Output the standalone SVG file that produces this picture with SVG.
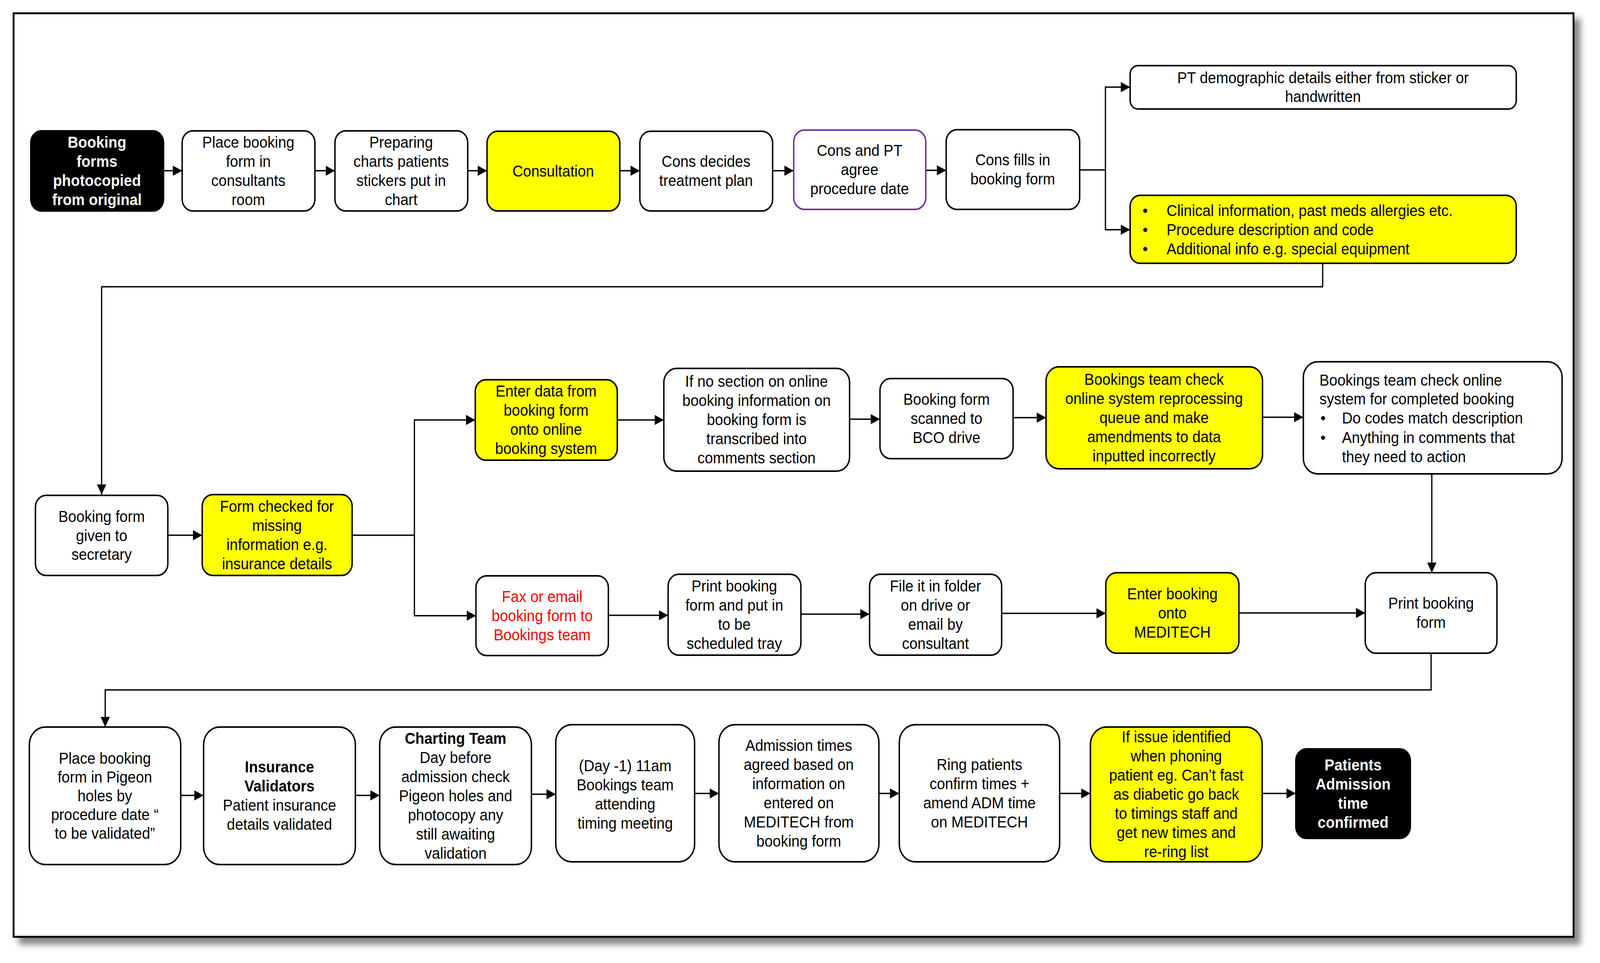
<svg xmlns="http://www.w3.org/2000/svg" width="4471" height="2465" viewBox="0 0 4471 2465" preserveAspectRatio="none">
<style>
svg:root{width:100%;height:100%}
.n{fill:#fff;stroke:#000;stroke-width:4}
.y{fill:#ff0;stroke:#000;stroke-width:4}
.k{fill:#000;stroke:#000;stroke-width:4}
.p{fill:#fff;stroke:#7030a0;stroke-width:4}
.c{fill:none;stroke:#000;stroke-width:3.5}
text{font-family:"Liberation Sans",Arial,sans-serif;font-size:41px;fill:#000}
.m{text-anchor:middle}
.b{font-weight:bold}
.w{fill:#fff;font-weight:bold}
.r{fill:#f00}
</style>
<defs>
<marker id="a" markerUnits="userSpaceOnUse" markerWidth="26" markerHeight="26" refX="26" refY="13" orient="auto"><path d="M0,0 L26,13 L0,26 z" fill="#000"/></marker>
<filter id="sh" x="-5%" y="-5%" width="110%" height="110%"><feGaussianBlur stdDeviation="8"/></filter>
</defs>
<rect width="4471" height="2465" fill="#fff"/>
<rect x="52" y="48" width="4365" height="2370" fill="#888" filter="url(#sh)"/>
<rect x="38" y="34" width="4359" height="2364" fill="#fff" stroke="#000" stroke-width="5"/>

<g id="connectors">
<path class="c" d="M457,437 H509" marker-end="url(#a)"/>
<path class="c" d="M880,437 H936" marker-end="url(#a)"/>
<path class="c" d="M1307,437 H1361" marker-end="url(#a)"/>
<path class="c" d="M1732,437 H1788" marker-end="url(#a)"/>
<path class="c" d="M2159,437 H2218" marker-end="url(#a)"/>
<path class="c" d="M2587,436 H2644" marker-end="url(#a)"/>
<path class="c" d="M3017,435 H3089 V223 H3158" marker-end="url(#a)"/>
<path class="c" d="M3089,435 V588 H3158" marker-end="url(#a)"/>
<path class="c" d="M3696,674 V734 H284 V1266" marker-end="url(#a)"/>
<path class="c" d="M469,1370 H565" marker-end="url(#a)"/>
<path class="c" d="M984,1370 H1158 V1075 H1328" marker-end="url(#a)"/>
<path class="c" d="M1158,1370 V1576 H1330" marker-end="url(#a)"/>
<path class="c" d="M1725,1075 H1855" marker-end="url(#a)"/>
<path class="c" d="M2374,1073 H2459" marker-end="url(#a)"/>
<path class="c" d="M2831,1069 H2923" marker-end="url(#a)"/>
<path class="c" d="M3528,1068 H3642" marker-end="url(#a)"/>
<path class="c" d="M4001,1213 V1466" marker-end="url(#a)"/>
<path class="c" d="M1700,1575 H1867" marker-end="url(#a)"/>
<path class="c" d="M2238,1572 H2430" marker-end="url(#a)"/>
<path class="c" d="M2799,1570 H3090" marker-end="url(#a)"/>
<path class="c" d="M3462,1569 H3815" marker-end="url(#a)"/>
<path class="c" d="M3999,1672 V1766 H294 V1861" marker-end="url(#a)"/>
<path class="c" d="M505,2036 H569" marker-end="url(#a)"/>
<path class="c" d="M993,2036 H1061" marker-end="url(#a)"/>
<path class="c" d="M1485,2033 H1553" marker-end="url(#a)"/>
<path class="c" d="M1941,2031 H2009" marker-end="url(#a)"/>
<path class="c" d="M2456,2031 H2513" marker-end="url(#a)"/>
<path class="c" d="M2961,2031 H3047" marker-end="url(#a)"/>
<path class="c" d="M3527,2031 H3621" marker-end="url(#a)"/>
</g>

<g id="n1"><rect class="k" x="86" y="335" width="371" height="205" rx="30"/>
<text class="m w" x="271"><tspan x="271" y="378">Booking</tspan><tspan x="271" y="427">forms</tspan><tspan x="271" y="476">photocopied</tspan><tspan x="271" y="525">from original</tspan></text></g>
<g id="n2"><rect class="n" x="509" y="335" width="371" height="205" rx="30"/>
<text class="m"><tspan x="694" y="378">Place booking</tspan><tspan x="694" y="427">form in</tspan><tspan x="694" y="476">consultants</tspan><tspan x="694" y="525">room</tspan></text></g>
<g id="n3"><rect class="n" x="936" y="335" width="371" height="205" rx="30"/>
<text class="m"><tspan x="1121" y="378">Preparing</tspan><tspan x="1121" y="427">charts patients</tspan><tspan x="1121" y="476">stickers put in</tspan><tspan x="1121" y="525">chart</tspan></text></g>
<g id="n4"><rect class="y" x="1361" y="336" width="371" height="204" rx="30"/>
<text class="m" x="1546" y="452">Consultation</text></g>
<g id="n5"><rect class="n" x="1788" y="336" width="371" height="204" rx="30"/>
<text class="m"><tspan x="1973" y="427">Cons decides</tspan><tspan x="1973" y="476">treatment plan</tspan></text></g>
<g id="n6"><rect class="p" x="2218" y="333" width="369" height="203" rx="30"/>
<text class="m"><tspan x="2402" y="399">Cons and PT</tspan><tspan x="2402" y="448">agree</tspan><tspan x="2402" y="497">procedure date</tspan></text></g>
<g id="n7"><rect class="n" x="2644" y="332" width="373" height="204" rx="30"/>
<text class="m"><tspan x="2830" y="423">Cons fills in</tspan><tspan x="2830" y="472">booking form</tspan></text></g>
<g id="n8"><rect class="n" x="3158" y="168" width="1079" height="111" rx="22"/>
<text class="m"><tspan x="3697" y="213">PT demographic details either from sticker or</tspan><tspan x="3697" y="261">handwritten</tspan></text></g>
<g id="n9"><rect class="y" x="3158" y="500" width="1079" height="174" rx="28"/>
<text><tspan x="3193" y="553">•</tspan><tspan x="3260" y="553">Clinical information, past meds allergies etc.</tspan><tspan x="3193" y="602">•</tspan><tspan x="3260" y="602">Procedure description and code</tspan><tspan x="3193" y="651">•</tspan><tspan x="3260" y="651">Additional info e.g. special equipment</tspan></text></g>

<g id="n10"><rect class="n" x="99" y="1268" width="370" height="205" rx="30"/>
<text class="m"><tspan x="284" y="1336">Booking form</tspan><tspan x="284" y="1385">given to</tspan><tspan x="284" y="1433">secretary</tspan></text></g>
<g id="n11"><rect class="y" x="565" y="1266" width="419" height="207" rx="30"/>
<text class="m"><tspan x="774" y="1310">Form checked for</tspan><tspan x="774" y="1359">missing</tspan><tspan x="774" y="1408">information e.g.</tspan><tspan x="774" y="1457">insurance details</tspan></text></g>
<g id="n12"><rect class="y" x="1328" y="972" width="397" height="206" rx="30"/>
<text class="m"><tspan x="1526" y="1015">Enter data from</tspan><tspan x="1526" y="1064">booking form</tspan><tspan x="1526" y="1113">onto online</tspan><tspan x="1526" y="1162">booking system</tspan></text></g>
<g id="n13"><rect class="n" x="1855" y="943" width="519" height="263" rx="36"/>
<text class="m"><tspan x="2114" y="990">If no section on online</tspan><tspan x="2114" y="1039">booking information on</tspan><tspan x="2114" y="1088">booking form is</tspan><tspan x="2114" y="1137">transcribed into</tspan><tspan x="2114" y="1186">comments section</tspan></text></g>
<g id="n14"><rect class="n" x="2459" y="969" width="372" height="205" rx="30"/>
<text class="m"><tspan x="2645" y="1036">Booking form</tspan><tspan x="2645" y="1085">scanned to</tspan><tspan x="2645" y="1134">BCO drive</tspan></text></g>
<g id="n15"><rect class="y" x="2923" y="939" width="605" height="261" rx="36"/>
<text class="m"><tspan x="3225" y="985">Bookings team check</tspan><tspan x="3225" y="1034">online system reprocessing</tspan><tspan x="3225" y="1083">queue and make</tspan><tspan x="3225" y="1132">amendments to data</tspan><tspan x="3225" y="1181">inputted incorrectly</tspan></text></g>
<g id="n16"><rect class="n" x="3642" y="926" width="723" height="287" rx="40"/>
<text><tspan x="3687" y="987">Bookings team check online</tspan><tspan x="3687" y="1035">system for completed booking</tspan><tspan x="3690" y="1084">•</tspan><tspan x="3750" y="1084">Do codes match description</tspan><tspan x="3690" y="1134">•</tspan><tspan x="3750" y="1134">Anything in comments that</tspan><tspan x="3750" y="1183">they need to action</tspan></text></g>
<g id="n17"><rect class="n" x="3815" y="1466" width="368" height="206" rx="30"/>
<text class="m"><tspan x="3999" y="1558">Print booking</tspan><tspan x="3999" y="1607">form</tspan></text></g>
<g id="n18"><rect class="y" x="3090" y="1466" width="372" height="206" rx="30"/>
<text class="m"><tspan x="3276" y="1534">Enter booking</tspan><tspan x="3276" y="1583">onto</tspan><tspan x="3276" y="1632">MEDITECH</tspan></text></g>
<g id="n19"><rect class="n" x="1330" y="1474" width="370" height="204" rx="30"/>
<text class="m r"><tspan x="1515" y="1541">Fax or email</tspan><tspan x="1515" y="1590">booking form to</tspan><tspan x="1515" y="1639">Bookings team</tspan></text></g>
<g id="n20"><rect class="n" x="1867" y="1470" width="371" height="207" rx="30"/>
<text class="m"><tspan x="2052" y="1514">Print booking</tspan><tspan x="2052" y="1563">form and put in</tspan><tspan x="2052" y="1612">to be</tspan><tspan x="2052" y="1661">scheduled tray</tspan></text></g>
<g id="n21"><rect class="n" x="2430" y="1470" width="369" height="207" rx="30"/>
<text class="m"><tspan x="2614" y="1514">File it in folder</tspan><tspan x="2614" y="1563">on drive or</tspan><tspan x="2614" y="1612">email by</tspan><tspan x="2614" y="1661">consultant</tspan></text></g>

<g id="n22"><rect class="n" x="82" y="1861" width="423" height="352" rx="45"/>
<text class="m"><tspan x="293" y="1955">Place booking</tspan><tspan x="293" y="2003">form in Pigeon</tspan><tspan x="293" y="2051">holes by</tspan><tspan x="293" y="2099">procedure date “</tspan><tspan x="293" y="2147">to be validated”</tspan></text></g>
<g id="n23"><rect class="n" x="569" y="1861" width="424" height="352" rx="45"/>
<text class="m"><tspan class="b" x="781" y="1977">Insurance</tspan><tspan class="b" x="781" y="2026">Validators</tspan><tspan x="781" y="2075">Patient insurance</tspan><tspan x="781" y="2124">details validated</tspan></text></g>
<g id="n24"><rect class="n" x="1061" y="1861" width="424" height="352" rx="45"/>
<text class="m"><tspan class="b" x="1273" y="1904">Charting Team</tspan><tspan x="1273" y="1953">Day before</tspan><tspan x="1273" y="2002">admission check</tspan><tspan x="1273" y="2051">Pigeon holes and</tspan><tspan x="1273" y="2100">photocopy any</tspan><tspan x="1273" y="2149">still awaiting</tspan><tspan x="1273" y="2198">validation</tspan></text></g>
<g id="n25"><rect class="n" x="1553" y="1855" width="388" height="351" rx="45"/>
<text class="m"><tspan x="1747" y="1974">(Day -1) 11am</tspan><tspan x="1747" y="2023">Bookings team</tspan><tspan x="1747" y="2072">attending</tspan><tspan x="1747" y="2121">timing meeting</tspan></text></g>
<g id="n26"><rect class="n" x="2009" y="1855" width="447" height="351" rx="45"/>
<text class="m"><tspan x="2232" y="1922">Admission times</tspan><tspan x="2232" y="1971">agreed based on</tspan><tspan x="2232" y="2020">information on</tspan><tspan x="2232" y="2069">entered on</tspan><tspan x="2232" y="2118">MEDITECH from</tspan><tspan x="2232" y="2167">booking form</tspan></text></g>
<g id="n27"><rect class="n" x="2513" y="1855" width="448" height="351" rx="45"/>
<text class="m"><tspan x="2737" y="1971">Ring patients</tspan><tspan x="2737" y="2020">confirm times +</tspan><tspan x="2737" y="2069">amend ADM time</tspan><tspan x="2737" y="2118">on MEDITECH</tspan></text></g>
<g id="n28"><rect class="y" x="3047" y="1861" width="480" height="345" rx="45"/>
<text class="m"><tspan x="3287" y="1900">If issue identified</tspan><tspan x="3287" y="1949">when phoning</tspan><tspan x="3287" y="1998">patient eg. Can’t fast</tspan><tspan x="3287" y="2047">as diabetic go back</tspan><tspan x="3287" y="2096">to timings staff and</tspan><tspan x="3287" y="2145">get new times and</tspan><tspan x="3287" y="2194">re-ring list</tspan></text></g>
<g id="n29"><rect class="k" x="3621" y="1917" width="320" height="229" rx="30"/>
<text class="m w"><tspan x="3781" y="1972">Patients</tspan><tspan x="3781" y="2021">Admission</tspan><tspan x="3781" y="2070">time</tspan><tspan x="3781" y="2119">confirmed</tspan></text></g>
</svg>
